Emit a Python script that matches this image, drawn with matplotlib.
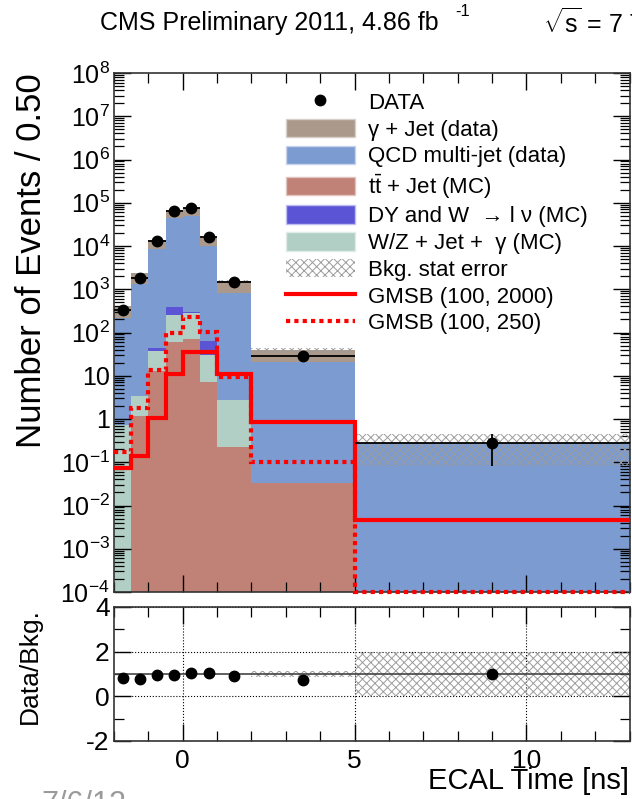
import numpy as np
import matplotlib
matplotlib.use("Agg")
import matplotlib.pyplot as plt
from matplotlib.patches import Patch
from matplotlib.lines import Line2D
from matplotlib.ticker import LogLocator, MultipleLocator, FixedLocator, FuncFormatter, NullFormatter

plt.rcParams["font.family"] = ["Liberation Sans", "DejaVu Sans"]
plt.rcParams["mathtext.fontset"] = "custom"
plt.rcParams["mathtext.rm"] = "Liberation Sans"
plt.rcParams["mathtext.it"] = "Liberation Sans:italic"
plt.rcParams["mathtext.bf"] = "Liberation Sans:bold"
plt.rcParams["hatch.linewidth"] = 0.7

# ECAL time binning [ns]
bin_edges = [-2, -1.5, -1, -0.5, 0, 0.5, 1, 2, 5, 13]

# observed events
data_counts = [330, 1820, 13000, 65500, 76000, 16100, 1470, 29, 0.28]
data_err_lo = [18, 43, 114, 256, 276, 127, 38, 5.4, 0.20]
data_err_hi = [18, 43, 114, 256, 276, 127, 38, 5.4, 0.17]

# background components (bottom of stack first)
ttbar_jet = [0, 1.17, 13, 61, 69, 7.3, 0.23, 0.033, 0]
wz_jet_gamma = [0.73, 2.3, 24, 193, 209, 22.7, 2.5, 0, 0]
dy_w_lnu = [0, 0, 6, 141, 22, 35, 0, 0, 0]
qcd_multijet = [213, 1317, 8357, 44600, 49700, 9935, 797, 20.4, 0.28]
gamma_jet = [195, 1010, 5400, 22600, 24000, 5600, 780, 18.6, 0]

# background statistical uncertainty
bkg_stat_lo = [8, 20, 60, 250, 260, 120, 30, 4.6, 0.20]
bkg_stat_hi = [8, 20, 60, 250, 260, 120, 30, 4.6, 0.17]
ratio_stat = [0.02, 0.02, 0.01, 0.01, 0.01, 0.01, 0.02, 0.12, 1.0]

# signal hypotheses
gmsb_100_2000 = [0.074, 0.14, 1.05, 10.8, 36, 36, 10.8, 0.87, 0.0046]
gmsb_100_250 = [0.17, 1.77, 13.6, 96, 225, 104, 9.2, 0.1, 1.0e-4]

labels = ["DATA", "\u03b3 + Jet (data)", "QCD multi-jet (data)",
          r"$\mathrm{t\bar{t}}$ + Jet (MC)", "DY and W  \u2192 l \u03bd (MC)",
          "W/Z + Jet +  \u03b3 (MC)", "Bkg. stat error",
          "GMSB (100, 2000)", "GMSB (100, 250)"]

col_gjet = "#ab9a8b"
col_qcd = "#7b9bd1"
col_tt = "#c08276"
col_dy = "#5b55d6"
col_wz = "#b1cfc5"
col_sig = "#ff0000"
hatch_col = "#9c9c9c"

W, H = 632, 799
fig = plt.figure(figsize=(W / 100, H / 100), dpi=100)


def px_axes(left, top, right, bottom):
    return fig.add_axes([left / W, 1 - bottom / H, (right - left) / W, (bottom - top) / H])


ax = px_axes(114, 73, 629.5, 592)
rax = px_axes(114, 607, 629.5, 741)

edges = np.array(bin_edges, dtype=float)
centers = 0.5 * (edges[1:] + edges[:-1])
halfw = 0.5 * (edges[1:] - edges[:-1])

ax.set_yscale("log", nonpositive="clip")
ax.set_xlim(-2, 13)
ax.set_ylim(1e-4, 1e8)

layers = [(ttbar_jet, col_tt), (wz_jet_gamma, col_wz), (dy_w_lnu, col_dy),
          (qcd_multijet, col_qcd), (gamma_jet, col_gjet)]
bottom = np.zeros(len(centers))
for vals, c in layers:
    top = bottom + np.array(vals, dtype=float)
    ax.stairs(top, edges, baseline=bottom.copy(), fill=True, color=c, lw=0, zorder=1)
    bottom = top
total = bottom

ax.stairs(total + np.array(bkg_stat_hi), edges,
          baseline=total - np.array(bkg_stat_lo), fill=True,
          facecolor="none", edgecolor=hatch_col, hatch="xxxx", lw=0, zorder=2)

ax.stairs(gmsb_100_2000, edges, baseline=None, color=col_sig, lw=3, zorder=4)
ax.stairs(gmsb_100_250, edges, baseline=None, color=col_sig, lw=3, ls=(0, (1, 1)),
          zorder=4, clip_on=False)

ax.errorbar(centers, data_counts, xerr=halfw, yerr=[data_err_lo, data_err_hi],
            fmt="o", color="black", ms=7.5, lw=1.3, capsize=0, zorder=5)

# axis styling
ax.yaxis.set_major_locator(LogLocator(base=10, numticks=20))
ax.yaxis.set_minor_locator(LogLocator(base=10, subs=np.arange(2, 10), numticks=200))


def log_label(v, pos):
    e = int(round(np.log10(v)))
    if e == 0:
        return "1"
    if e == 1:
        return "10"
    return r"$10^{%d}$" % e


ax.yaxis.set_major_formatter(FuncFormatter(log_label))
ax.yaxis.set_minor_formatter(NullFormatter())
ax.xaxis.set_major_locator(FixedLocator([0, 5, 10]))
ax.xaxis.set_minor_locator(MultipleLocator(1))
ax.tick_params(axis="x", labelbottom=False)
for a in (ax, rax):
    a.tick_params(which="both", direction="in", top=True, right=True, labelsize=18, pad=3)
    a.tick_params(which="major", length=12, width=1.0)
    a.tick_params(which="minor", length=7, width=0.9)
    for s in a.spines.values():
        s.set_linewidth(1.2)
        s.set_color("#333333")

# ratio panel
rax.set_xlim(-2, 13)
rax.set_ylim(-2, 4)
rax.xaxis.set_major_locator(FixedLocator([0, 5, 10]))
rax.xaxis.set_minor_locator(MultipleLocator(1))
rax.yaxis.set_major_locator(FixedLocator([-2, 0, 2, 4]))
rax.yaxis.set_minor_locator(MultipleLocator(1))
rax.yaxis.set_major_formatter(FuncFormatter(lambda v, p: "%d" % v))
rax.tick_params(labelsize=19)
rax.tick_params(axis="x", pad=6)
rax.grid(True, which="major", ls=":", color="black", lw=0.8)
rel = np.array(ratio_stat)
rax.stairs(1 + rel, edges, baseline=1 - rel, fill=True, facecolor="none",
           edgecolor=hatch_col, hatch="xxxx", lw=0, zorder=2)
rax.axhline(1, color="#444444", lw=1.2, zorder=3)
ratio = np.array(data_counts) / total
rax.plot(centers, ratio, "o", color="black", ms=7.5, zorder=5)

# axis titles
fig.text(32 / W, 1 - 73 / H, "Number of Events / 0.50", rotation=90, ha="center", va="top", fontsize=25)
fig.text(30 / W, 1 - 608 / H, "Data/Bkg.", rotation=90, ha="center", va="top", fontsize=19)
fig.text(629 / W, 1 - 781 / H, "ECAL Time [ns]", ha="right", va="center", fontsize=21)

# header
fig.text(100 / W, 1 - 23 / H, "CMS Preliminary 2011, 4.86 fb", ha="left", va="center", fontsize=18)
fig.text(455 / W, 1 - 11 / H, "-1", ha="left", va="center", fontsize=12)
fig.text(543 / W, 1 - 23 / H, r"$\sqrt{\mathrm{s}}$ = 7 TeV", ha="left", va="center", fontsize=18)
fig.text(41 / W, 1 - 813 / H, "7/6/12", ha="left", va="baseline", fontsize=22, color="#9a9a9a")

# legend
handles = [
    Line2D([], [], ls="none", marker="o", color="black", ms=7.5),
    Patch(facecolor=col_gjet, edgecolor="#d8d0c8"),
    Patch(facecolor=col_qcd, edgecolor="#c8d4ee"),
    Patch(facecolor=col_tt, edgecolor="#e0c4bd"),
    Patch(facecolor=col_dy, edgecolor="#c0bef0"),
    Patch(facecolor=col_wz, edgecolor="#dfece8"),
    Patch(facecolor="white", edgecolor=hatch_col, hatch="xxxx", lw=0),
    Line2D([], [], color=col_sig, lw=3),
    Line2D([], [], color=col_sig, lw=3, ls=(0, (1, 1))),
]
fig.legend(handles, labels, loc="upper left", bbox_to_anchor=(286 / W, 1 - 92 / H),
           frameon=False, fontsize=16, handlelength=3.1, handleheight=0.9,
           handletextpad=0.6, labelspacing=0.22, borderpad=0, borderaxespad=0)

fig.savefig("out.png", dpi=100)
